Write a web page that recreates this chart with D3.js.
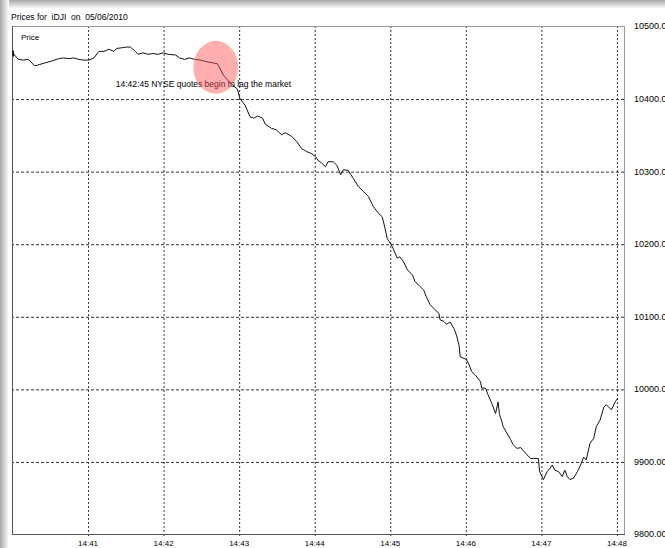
<!DOCTYPE html>
<html>
<head>
<meta charset="utf-8">
<script src="https://cdn.jsdelivr.net/npm/d3@7"></script>
<style>
html,body{margin:0;padding:0;background:#fff;}
svg{display:block;}
text{font-family:"Liberation Sans",Arial,sans-serif;fill:#000;}
</style>
</head>
<body>
<svg id="chart" width="665" height="548"></svg>
<script>
// ---- data ----
const title = "Prices for  iDJI  on  05/06/2010";
const seriesName = "Price";
const annotationText = "14:42:45 NYSE quotes begin to lag the market";
const annotationTime = "14:42:45";
const xDomain = ["14:40:00", "14:48:06"];
const yDomain = [9800, 10500];
const xTickLabels = ["14:41","14:42","14:43","14:44","14:45","14:46","14:47","14:48"];
const yTickValues = [9800, 9900, 10000, 10100, 10200, 10300, 10400, 10500];

const times = [
"14:40:01","14:40:05","14:40:09","14:40:13","14:40:18","14:40:22","14:40:26","14:40:32","14:40:37","14:40:41",
"14:40:45","14:40:49","14:40:53","14:40:57","14:41:01","14:41:05","14:41:09","14:41:13","14:41:17","14:41:21",
"14:41:23","14:41:27","14:41:31","14:41:34","14:41:38","14:41:40","14:41:44","14:41:48","14:41:52","14:41:56",
"14:42:00","14:42:04","14:42:10","14:42:13","14:42:17","14:42:21","14:42:25","14:42:30","14:42:34","14:42:40",
"14:42:43","14:42:45","14:42:48","14:42:51","14:42:55","14:42:59","14:43:01","14:43:05","14:43:09","14:43:12",
"14:43:15","14:43:19","14:43:21","14:43:26","14:43:30","14:43:34","14:43:37","14:43:42","14:43:46","14:43:50",
"14:43:54","14:43:58","14:44:01","14:44:03","14:44:06","14:44:09","14:44:11","14:44:15","14:44:18","14:44:21",
"14:44:23","14:44:27","14:44:31","14:44:35","14:44:39","14:44:43","14:44:47","14:44:51","14:44:54","14:44:56",
"14:44:58","14:45:02","14:45:06","14:45:08","14:45:11","14:45:14","14:45:18","14:45:20","14:45:24","14:45:27",
"14:45:29","14:45:32","14:45:36","14:45:39","14:45:40","14:45:43","14:45:45","14:45:48","14:45:51","14:45:53",
"14:45:55","14:45:56","14:45:59","14:46:01","14:46:03","14:46:05","14:46:08","14:46:12","14:46:13","14:46:16",
"14:46:18","14:46:21","14:46:24","14:46:26","14:46:27","14:46:29","14:46:30","14:46:33","14:46:36","14:46:38",
"14:46:41","14:46:44","14:46:46","14:46:49","14:46:52","14:46:54","14:46:58","14:46:59","14:47:02","14:47:05",
"14:47:07","14:47:09","14:47:11","14:47:14","14:47:17","14:47:19","14:47:21","14:47:23","14:47:26","14:47:29",
"14:47:31","14:47:34","14:47:36","14:47:39","14:47:42","14:47:44","14:47:47","14:47:50","14:47:52","14:47:56",
"14:47:59","14:48:01"
];
const prices = [
10462,10454,10453,10454,10445,10447,10449,10452,10455,10456,
10455,10456,10454,10453,10453,10456,10465,10465,10468,10465,
10469,10470,10471,10471,10465,10461,10463,10461,10462,10461,
10463,10461,10460,10456,10454,10456,10454,10453,10451,10449,
10448,10442,10432,10426,10419,10413,10400,10391,10375,10373,
10376,10373,10365,10359,10357,10350,10353,10348,10341,10331,
10327,10324,10320,10315,10311,10306,10313,10313,10308,10295,
10302,10301,10290,10279,10272,10265,10251,10242,10237,10223,
10207,10196,10180,10182,10175,10164,10157,10148,10141,10136,
10127,10116,10109,10104,10095,10093,10089,10092,10083,10074,
10060,10044,10042,10040,10033,10024,10019,10010,10001,10001,
9992,9980,9966,9982,9966,9955,9948,9939,9930,9923,
9918,9919,9915,9909,9904,9904,9904,9886,9875,9886,
9890,9895,9888,9886,9879,9888,9879,9875,9877,9886,
9893,9906,9902,9925,9932,9948,9957,9975,9978,9971,
9982,9987
];

// ---- drawing ----
const W = 665, H = 548;
const plot = {left: 12, right: 624, top: 26, bottom: 534};
const parse = d3.timeParse("%H:%M:%S");
const parseHM = d3.timeParse("%H:%M");
const data = times.map((t, i) => ({t: parse(t), v: prices[i]}));

const x = d3.scaleTime().domain(xDomain.map(parse)).range([plot.left, plot.right]);
const y = d3.scaleLinear().domain(yDomain).range([plot.bottom, plot.top]);

const svg = d3.select("#chart");
const defs = svg.append("defs");
const gTop = defs.append("linearGradient").attr("id","gTop").attr("x1",0).attr("y1",0).attr("x2",0).attr("y2",1);
gTop.append("stop").attr("offset","0%").attr("stop-color","#a8a8a8");
gTop.append("stop").attr("offset","100%").attr("stop-color","#ffffff");
const gLeft = defs.append("linearGradient").attr("id","gLeft").attr("x1",0).attr("y1",0).attr("x2",1).attr("y2",0);
gLeft.append("stop").attr("offset","0%").attr("stop-color","#a8a8a8");
gLeft.append("stop").attr("offset","100%").attr("stop-color","#ffffff");
const clip = defs.append("clipPath").attr("id","plotClip");
clip.append("rect").attr("x",plot.left).attr("y",plot.top).attr("width",plot.right-plot.left).attr("height",plot.bottom-plot.top);

svg.append("rect").attr("width",W).attr("height",H).attr("fill","#fff");
svg.append("rect").attr("x",0).attr("y",0).attr("width",W).attr("height",9).attr("fill","url(#gTop)");
svg.append("rect").attr("x",0).attr("y",0).attr("width",9).attr("height",H).attr("fill","url(#gLeft)");
svg.append("rect").attr("x",8).attr("y",8).attr("width",W-8).attr("height",H-8).attr("fill","#fff");

// title
svg.append("text").attr("x",11).attr("y",19.5).attr("font-size","8.5px")
  .attr("xml:space","preserve").style("white-space","pre").text(title);

// x axis (gridlines + labels)
const xTicks = xTickLabels.map(parseHM);
const xAxis = d3.axisBottom(x).tickValues(xTicks).tickFormat(d3.timeFormat("%H:%M"))
  .tickSize(plot.bottom - plot.top + 3).tickPadding(3);
const gx = svg.append("g").attr("transform",`translate(0,${plot.top})`).call(xAxis);
gx.select(".domain").remove();
gx.selectAll(".tick line").attr("stroke","#333").attr("stroke-dasharray","2,2").attr("stroke-width",1)
  .attr("transform","translate(0.5,0)");
gx.selectAll(".tick text").attr("font-size","8px").attr("font-family","Liberation Sans, Arial, sans-serif").attr("fill","#000");

// y axis (right side labels + horizontal gridlines)
const yAxis = d3.axisRight(y).tickValues(yTickValues).tickFormat(d3.format(".2f"))
  .tickSize(0).tickPadding(10);
const gy = svg.append("g").attr("transform",`translate(${plot.right},0)`).call(yAxis);
gy.select(".domain").remove();
gy.selectAll(".tick text").attr("font-size","9px").attr("font-family","Liberation Sans, Arial, sans-serif").attr("fill","#000");

const yGrid = d3.axisLeft(y).tickValues(yTickValues.filter(v => v > yDomain[0] && v < yDomain[1]))
  .tickSize(plot.right - plot.left).tickFormat("");
const gyg = svg.append("g").attr("transform",`translate(${plot.right},0)`).call(yGrid);
gyg.select(".domain").remove();
gyg.selectAll(".tick line").attr("stroke","#333").attr("stroke-dasharray","3,2").attr("stroke-width",1)
  .attr("transform","translate(0,0.5)");

// frame
svg.append("line").attr("x1",plot.left).attr("x2",plot.right).attr("y1",plot.top+0.5).attr("y2",plot.top+0.5).attr("stroke","#999");
svg.append("line").attr("x1",plot.right+0.5).attr("x2",plot.right+0.5).attr("y1",plot.top).attr("y2",plot.bottom).attr("stroke","#999");
svg.append("line").attr("x1",plot.left+0.5).attr("x2",plot.left+0.5).attr("y1",plot.top).attr("y2",plot.bottom+1).attr("stroke","#555");
svg.append("line").attr("x1",plot.left).attr("x2",plot.right+1).attr("y1",plot.bottom+0.5).attr("y2",plot.bottom+0.5).attr("stroke","#555");

// series label
svg.append("text").attr("x",21).attr("y",40).attr("font-size","8px").text(seriesName);

// price line
const line = d3.line().x(d => x(d.t)).y(d => y(d.v));
svg.append("path").datum(data).attr("clip-path","url(#plotClip)")
  .attr("fill","none").attr("stroke","#111").attr("stroke-width",1).attr("d",line);
// start marker
svg.append("line").attr("x1",x(data[0].t)).attr("x2",x(data[0].t))
  .attr("y1",y(data[0].v)-3).attr("y2",y(data[0].v)+3).attr("stroke","#111").attr("stroke-width",1.5);

// annotation
const ax = x(parse(annotationTime));
svg.append("text").attr("x",ax - 104).attr("y",86.5).attr("font-size","8.5px").text(annotationText);
svg.append("ellipse").attr("cx",ax - 4).attr("cy",y(10443))
  .attr("rx",22.5).attr("ry",26.5).attr("fill","#ff4d4d").attr("fill-opacity",0.45);
</script>
</body>
</html>
